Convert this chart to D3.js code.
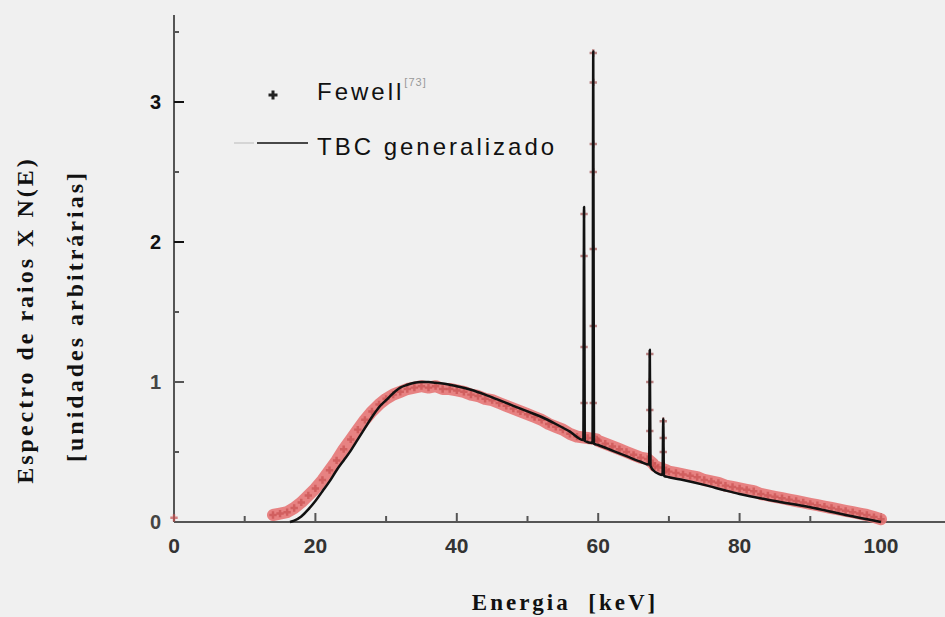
<!DOCTYPE html>
<html>
<head>
<meta charset="utf-8">
<script src="https://cdn.jsdelivr.net/npm/d3@7"></script>
<style>
  html, body { margin: 0; padding: 0; background: #f0f0f0; }
  svg { display: block; }
</style>
</head>
<body>
<svg id="chart" width="945" height="617"></svg>
<script>
// Fewell measured spectrum, continuum part [keV, N(E)]
const fewellEnergy = [0, 14, 15, 16, 17, 18, 19, 20, 21, 22, 23, 24, 25, 26, 27, 28, 29, 30,
  31, 32, 33, 34, 35, 36, 37, 38, 39, 40, 41, 42, 43, 44, 45, 46, 47, 48, 49, 50,
  51, 52, 53, 54, 55, 56, 57, 58.5, 59.8, 60, 61, 62, 63, 64, 65, 66, 67, 67.7, 68, 68.5, 69.6, 70,
  71, 72, 73, 74, 75, 76, 77, 78, 79, 80, 81, 82, 83, 84, 85, 86, 87, 88, 89, 90,
  91, 92, 93, 94, 95, 96, 97, 98, 99, 100];
const fewellValue = [0.03, 0.05, 0.06, 0.07, 0.10, 0.14, 0.19, 0.24, 0.30, 0.37, 0.44, 0.52, 0.59, 0.66, 0.73, 0.79, 0.84, 0.88,
  0.91, 0.93, 0.95, 0.96, 0.97, 0.96, 0.97, 0.95, 0.95, 0.94, 0.93, 0.91, 0.90, 0.88, 0.87, 0.85, 0.83, 0.81, 0.79, 0.77,
  0.75, 0.73, 0.70, 0.68, 0.66, 0.63, 0.61, 0.60, 0.59, 0.58, 0.56, 0.54, 0.52, 0.50, 0.48, 0.46, 0.45, 0.42, 0.40, 0.39, 0.37, 0.36,
  0.35, 0.34, 0.33, 0.32, 0.30, 0.29, 0.28, 0.26, 0.25, 0.24, 0.23, 0.22, 0.20, 0.19, 0.18, 0.17, 0.16, 0.15, 0.14, 0.13,
  0.12, 0.11, 0.10, 0.09, 0.08, 0.07, 0.06, 0.05, 0.035, 0.02];

// Fewell points on the characteristic lines
const peakEnergy = [58.0, 58.0, 58.0, 58.0, 59.3, 59.3, 59.3, 59.3, 59.3, 59.3, 59.3, 67.3, 67.3, 67.3, 67.3, 69.2, 69.2, 69.2];
const peakValue  = [2.20, 1.90, 1.25, 0.85, 3.35, 3.14, 2.70, 2.50, 1.95, 1.40, 0.85, 1.20, 1.00, 0.80, 0.65, 0.72, 0.60, 0.50];

// TBC generalizado model
const tbcEnergy = [16.4, 17, 18, 19, 20, 21, 22, 23, 24, 25, 26, 27, 28, 29, 30, 31, 32, 33, 34, 35, 36, 37, 38, 39, 40,
  42, 44, 46, 48, 50, 52, 54, 56, 57.9, 58.0, 58.1, 59.2, 59.3, 59.4, 60, 62, 64, 66, 67.2, 67.3, 67.4, 68.0, 68.5,
  69.1, 69.2, 69.3, 70, 72, 75, 78, 80, 85, 90, 95, 100];
const tbcValue = [0, 0.01, 0.04, 0.09, 0.15, 0.22, 0.29, 0.37, 0.44, 0.51, 0.59, 0.67, 0.75, 0.82, 0.87, 0.92, 0.96, 0.98, 0.995, 1.0, 1.0, 0.995, 0.99, 0.98, 0.97,
  0.945, 0.91, 0.87, 0.83, 0.79, 0.75, 0.70, 0.645, 0.585, 2.25, 0.58, 0.565, 3.36, 0.56, 0.55, 0.51, 0.47, 0.43, 0.41, 1.23, 0.40, 0.36, 0.345,
  0.335, 0.74, 0.33, 0.32, 0.30, 0.265, 0.225, 0.20, 0.15, 0.105, 0.05, 0];

const xTicks = [0, 20, 40, 60, 80, 100];
const yTicks = [0, 1, 2, 3];

const svg = d3.select("#chart");

const x = d3.scaleLinear().domain([0, 100]).range([174, 881]);
const y = d3.scaleLinear().domain([0, 1]).range([522, 382]);

// axes
const axisColor = "#555";
svg.append("line")
  .attr("x1", x(0)).attr("x2", 945)
  .attr("y1", y(0)).attr("y2", y(0))
  .attr("stroke", axisColor).attr("stroke-width", 2);
svg.append("line")
  .attr("x1", x(0)).attr("x2", x(0))
  .attr("y1", y(0)).attr("y2", 15)
  .attr("stroke", axisColor).attr("stroke-width", 2);

// x ticks (inward)
d3.range(0, 111, 10).forEach(v => {
  const major = v % 20 === 0;
  svg.append("line")
    .attr("x1", x(v)).attr("x2", x(v))
    .attr("y1", y(0)).attr("y2", y(0) - (major ? 9 : 6))
    .attr("stroke", axisColor).attr("stroke-width", 2);
});
svg.selectAll(".xlab")
  .data(xTicks)
  .enter()
  .append("text")
  .attr("class", "xlab")
  .attr("x", d => x(d))
  .attr("y", 553)
  .attr("text-anchor", "middle")
  .attr("font-family", "Liberation Sans, Arial, sans-serif")
  .attr("font-weight", "bold")
  .attr("font-size", 21)
  .attr("fill", "#333")
  .text(d => d);

// y ticks (inward)
d3.range(0, 3.6, 0.5).forEach(v => {
  const major = Number.isInteger(v);
  svg.append("line")
    .attr("x1", x(0)).attr("x2", x(0) + (major ? 10 : 5))
    .attr("y1", y(v)).attr("y2", y(v))
    .attr("stroke", major && v >= 2 ? "#111" : axisColor).attr("stroke-width", 2);
});
svg.selectAll(".ylab")
  .data(yTicks)
  .enter()
  .append("text")
  .attr("class", "ylab")
  .attr("x", 161)
  .attr("y", d => y(d) + 7)
  .attr("text-anchor", "end")
  .attr("font-family", "Liberation Sans, Arial, sans-serif")
  .attr("font-weight", "bold")
  .attr("font-size", 20)
  .attr("fill", d => d >= 2 ? "#111" : "#444")
  .text(d => d);

// Fewell data: pink band of crosses
const fewell = fewellEnergy.map((e, i) => ({ e, v: fewellValue[i] }));
const peaks = peakEnergy.map((e, i) => ({ e, v: peakValue[i] }));

svg.append("path")
  .datum(fewell.slice(1))
  .attr("fill", "none")
  .attr("stroke", "#e67676")
  .attr("stroke-opacity", 0.9)
  .attr("stroke-width", 12)
  .attr("stroke-linejoin", "round")
  .attr("stroke-linecap", "round")
  .attr("d", d3.line().x(d => x(d.e)).y(d => y(d.v)));

const cross = d3.symbol().type(d3.symbolCross).size(30);
svg.selectAll(".fewell")
  .data(fewell)
  .enter()
  .append("path")
  .attr("class", "fewell")
  .attr("transform", d => `translate(${x(d.e)},${y(d.v)})`)
  .attr("d", cross)
  .attr("fill", "#c85050")
  .attr("fill-opacity", 0.7);

svg.selectAll(".peak")
  .data(peaks)
  .enter()
  .append("path")
  .attr("class", "peak")
  .attr("transform", d => `translate(${x(d.e)},${y(d.v)})`)
  .attr("d", d3.symbol().type(d3.symbolCross).size(30))
  .attr("fill", "#a05050")
  .attr("fill-opacity", 0.7);

// TBC line
const tbc = tbcEnergy.map((e, i) => ({ e, v: tbcValue[i] }));
svg.append("path")
  .datum(tbc)
  .attr("fill", "none")
  .attr("stroke", "#111")
  .attr("stroke-width", 2.5)
  .attr("stroke-linejoin", "round")
  .attr("d", d3.line().curve(d3.curveMonotoneX).x(d => x(d.e)).y(d => y(d.v)));

// legend
svg.append("path")
  .attr("transform", "translate(273,95)")
  .attr("d", d3.symbol().type(d3.symbolCross).size(45))
  .attr("fill", "#222");
const legFont = "Liberation Sans, Arial, sans-serif";
const fw = svg.append("text")
  .attr("x", 317).attr("y", 100)
  .attr("font-family", legFont).attr("font-size", 24)
  .attr("letter-spacing", 3).attr("fill", "#111");
fw.append("tspan").text("Fewell");
fw.append("tspan").attr("dy", -14).attr("font-size", 11)
  .attr("letter-spacing", 1).attr("fill", "#999").text("[73]");

svg.append("line")
  .attr("x1", 234).attr("x2", 254).attr("y1", 143).attr("y2", 143)
  .attr("stroke", "#ccc").attr("stroke-width", 1.5);
svg.append("line")
  .attr("x1", 257).attr("x2", 308).attr("y1", 143).attr("y2", 143)
  .attr("stroke", "#111").attr("stroke-width", 1.5);
svg.append("text")
  .attr("x", 317).attr("y", 155)
  .attr("font-family", legFont).attr("font-size", 24)
  .attr("letter-spacing", 3).attr("fill", "#111")
  .text("TBC generalizado");

// axis titles
const serif = "Liberation Serif, Times New Roman, serif";
svg.append("text")
  .attr("transform", "translate(33,320) rotate(-90)")
  .attr("text-anchor", "middle")
  .attr("font-family", serif).attr("font-weight", "bold")
  .attr("font-size", 24).attr("letter-spacing", 3).attr("fill", "#111")
  .text("Espectro de raios X N(E)");
svg.append("text")
  .attr("transform", "translate(83,316) rotate(-90)")
  .attr("text-anchor", "middle")
  .attr("font-family", serif).attr("font-weight", "bold")
  .attr("font-size", 24).attr("letter-spacing", 3).attr("fill", "#111")
  .text("[unidades arbitrárias]");
svg.append("text")
  .attr("x", 565).attr("y", 610)
  .attr("text-anchor", "middle")
  .attr("font-family", serif).attr("font-weight", "bold")
  .attr("font-size", 23).attr("letter-spacing", 3).attr("fill", "#111")
  .attr("xml:space", "preserve")
  .text("Energia  [keV]");
</script>
</body>
</html>
